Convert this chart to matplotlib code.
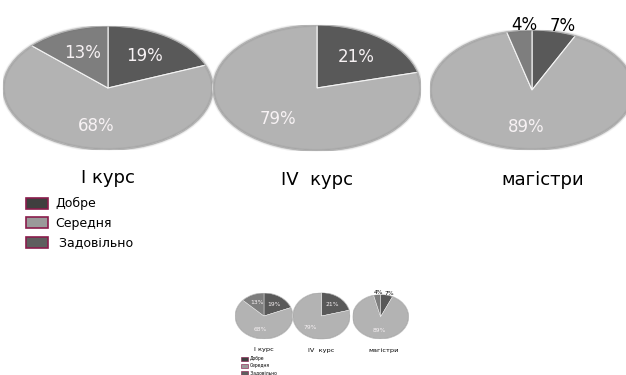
import matplotlib
matplotlib.use("Agg")
import matplotlib.pyplot as plt
from matplotlib.patches import Rectangle, Ellipse

W, H = 626, 375

groups = ["I курс", "IV  курс", "магістри"]
legend_labels = ["Добре", "Середня", " Задовільно"]
# shares per group, clockwise from 12 o'clock: Добре, Середня, Задовільно
shares = [
    [19, 68, 13],
    [21, 79],
    [7, 89, 4],
]
colors = ["#595959", "#b3b3b3", "#7e7e7e"]
legend_fill = ["#3f3f3f", "#9a9a9a", "#5e5e5e"]

# pie centres and half-axes in pixels (full-size panel)
centres = [(108, 88), (317, 88), (532, 90)]
radii = [(105, 62), (104, 63), (102, 60)]
title_pos = [(108, 178), (317, 180), (543, 180)]

plt.rcParams["font.family"] = ["DejaVu Sans"]

fig = plt.figure(figsize=(W / 100, H / 100), dpi=100)
fig.patch.set_facecolor("white")


def draw_panel(ox, oy, sx, sy, fs):
    # ox, oy: where pixel (108, 88) of the full panel lands; sx, sy: scale
    def tx(x):
        return ox + (x - 108) * sx

    def ty(y):
        return oy + (y - 88) * sy

    for vals, (cx, cy), (rx, ry), title, (tx0, ty0) in zip(shares, centres, radii, groups, title_pos):
        x0, x1 = tx(cx - rx), tx(cx + rx)
        y0, y1 = ty(cy - ry), ty(cy + ry)
        ax = fig.add_axes([x0 / W, 1 - y1 / H, (x1 - x0) / W, (y1 - y0) / H])
        wedges, texts, autotexts = ax.pie(
            vals, colors=colors[:len(vals)], startangle=90, counterclock=False,
            autopct=lambda p: f"{p:.0f}%", pctdistance=0.62,
            wedgeprops=dict(edgecolor="#f4f4f4", linewidth=0.8 * fs),
            textprops=dict(color="#f7f2f4", fontsize=12 * fs))
        for v, t in zip(vals, autotexts):
            if v < 10:
                x, y = t.get_position()
                t.set_position((x * 1.75 + 0.06, y * 1.75))
                t.set_color("black")
        # soft rim round the whole pie
        for lw, a in [(3.0, 0.10), (1.5, 0.18), (0.6, 0.35)]:
            ax.add_patch(Ellipse((0, 0), 2, 2, fill=False, edgecolor="#6f6f6f",
                                 linewidth=lw * fs, alpha=a))
        ax.set_aspect("auto")
        ax.set_xlim(-1, 1)
        ax.set_ylim(-1, 1)
        ax.axis("off")
        fig.text(tx(tx0) / W, 1 - ty(ty0) / H, title, fontsize=13 * fs,
                 ha="center", va="center", color="black")

    # legend boxes with a crimson border
    for i, (lab, fc) in enumerate(zip(legend_labels, legend_fill)):
        yc = 203.5 + i * 19.5
        rx0, rx1 = tx(26), tx(48)
        ry0, ry1 = ty(yc - 5.5), ty(yc + 5.5)
        fig.patches.append(Rectangle((rx0 / W, 1 - ry1 / H), (rx1 - rx0) / W, (ry1 - ry0) / H,
                                     transform=fig.transFigure, facecolor=fc,
                                     edgecolor="#8a1c4c", linewidth=1.2 * fs))
        fig.text(tx(55) / W, 1 - ty(yc) / H, lab, fontsize=9 * fs,
                 ha="left", va="center", color="black")


draw_panel(108, 88, 1.0, 1.0, 1.0)
draw_panel(264, 316, 0.275, 0.37, 0.36)

fig.savefig("out.png", dpi=100)
